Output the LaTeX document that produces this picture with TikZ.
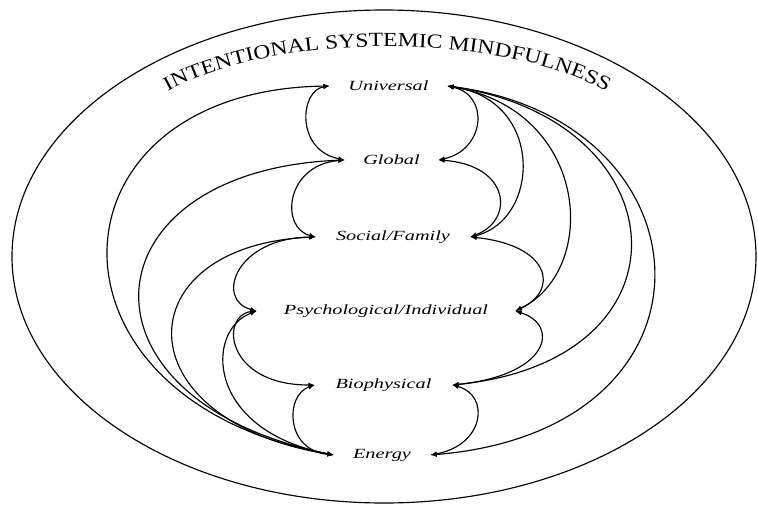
\documentclass[tikz,border=0pt]{standalone}
\usepackage{fontspec}
\setmainfont{Liberation Serif}
\newfontfamily\titlefont[FakeStretch=1.18]{Liberation Serif}
\newfontfamily\lblfont[FakeStretch=1.45]{Liberation Serif}
\usetikzlibrary{arrows.meta,decorations.text}
\begin{document}
\begin{tikzpicture}[x=1pt,y=-1pt,
  level/.style={inner sep=0pt,minimum height=10pt,font=\lblfont\itshape\fontsize{14}{16}\selectfont},
  link/.style={line width=1.15pt,{Latex[length=6.5pt,width=5pt]}-{Latex[length=6.5pt,width=5pt]}},
  rim/.style={line width=1.15pt}]
\useasboundingbox (0,0) rectangle (758,506);

% enclosing field
\draw[rim] (384,256.5) ellipse [x radius=372pt, y radius=246.5pt];
\path[decorate,decoration={text along path,text align=center,
  text={|\titlefont\fontsize{20}{22}\selectfont|INTENTIONAL SYSTEMIC MINDFULNESS}}]
  (160,96) .. controls (266,30) and (508,30) .. (614,96);

% levels
\node[level,minimum width=117pt] (U) at (388.5,86) {Universal};
\node[level,minimum width=93pt]  (G) at (391.5,160) {Global};
\node[level,minimum width=154pt] (S) at (393,237) {Social/Family};
\node[level,minimum width=258pt] (P) at (386,311) {Psychological/Individual};
\node[level,minimum width=137pt] (B) at (383.5,385) {Biophysical};
\node[level,minimum width=96pt]  (E) at (382,455) {Energy};

% left-hand chain between neighbouring levels
\draw[link] (U.west) .. controls (300,90) and (295,150) .. (G.west);
\draw[link] (G.west) .. controls (285,165) and (280,228) .. (S.west);
\draw[link] (S.west) .. controls (235,238) and (215,300) .. (P.west);
\draw[link] (P.west) .. controls (220,315) and (225,385) .. (B.west);
\draw[link] (B.west) .. controls (285,395) and (285,450) .. (E.west);

% left-hand fan from Energy
\draw[link] (E.west) .. controls (28,400) and (40,90) .. (U.west);
\draw[link] (E.west) .. controls (64,400) and (84,170) .. (G.west);
\draw[link] (E.west) .. controls (120,420) and (125,245) .. (S.west);
\draw[link] (E.west) .. controls (205,430) and (205,330) .. (P.west);

% right-hand chain between neighbouring levels
\draw[link] (U.east) .. controls (490,95) and (485,150) .. (G.east);
\draw[link] (G.east) .. controls (510,165) and (515,220) .. (S.east);
\draw[link] (S.east) .. controls (550,245) and (560,290) .. (P.east);
\draw[link] (P.east) .. controls (560,325) and (550,375) .. (B.east);
\draw[link] (B.east) .. controls (490,395) and (485,445) .. (E.east);

% right-hand fan from Universal
\draw[link] (U.east) .. controls (545,100) and (540,220) .. (S.east);
\draw[link] (U.east) .. controls (590,110) and (600,270) .. (P.east);
\draw[link] (U.east) .. controls (680,120) and (700,360) .. (B.east);
\draw[link] (U.east) .. controls (715,120) and (735,430) .. (E.east);
\end{tikzpicture}
\end{document}
